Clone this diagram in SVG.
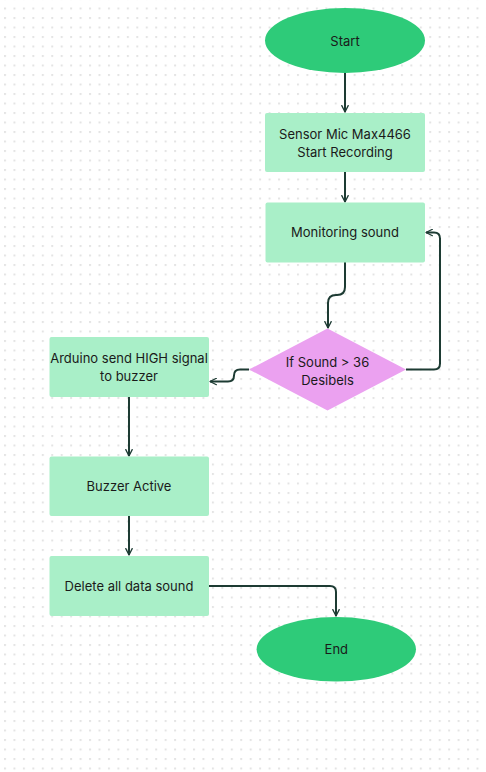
<svg xmlns="http://www.w3.org/2000/svg" width="486" height="772" viewBox="0 0 486 772">
<defs>
<pattern id="dots" x="4" y="17" width="9.45" height="9.5" patternUnits="userSpaceOnUse">
<rect x="0" y="0" width="2" height="2" fill="#e4e4e4"/>
</pattern>
<marker id="arr" viewBox="0 0 10 10" refX="9" refY="5" markerWidth="8" markerHeight="8" markerUnits="userSpaceOnUse" orient="auto">
<path d="M1,1 L9,5 L1,9" fill="none" stroke="#1d3b33" stroke-width="1.6" stroke-linecap="round" stroke-linejoin="round"/>
</marker>
<style>
.term{fill:#2ecb79}
.proc{fill:#a9efc8}
.dec{fill:#eba1f0}
.lbl{font-family:Inter,"Liberation Sans",sans-serif;font-size:13px;fill:#1a1a1a;text-anchor:middle}
.con{fill:none;stroke:#1d3b33;stroke-width:2;marker-end:url(#arr)}
</style>
</defs>
<rect width="486" height="772" fill="#ffffff"/>
<rect width="486" height="772" fill="url(#dots)"/>
<g id="connectors">
<path class="con" d="M345,73 V112"/>
<path class="con" d="M345,172 V202"/>
<path class="con" d="M345,262 V287 Q345,295 337,295 H336 Q328,295 328,303 V328"/>
<path class="con" d="M406,369.5 H434 Q440,369.5 440,363.5 V238.5 Q440,232.5 434,232.5 H426"/>
<path class="con" d="M249,369.5 H240 Q234,369.5 234,375.5 Q234,381.5 228,381.5 H210"/>
<path class="con" d="M129,397 V456"/>
<path class="con" d="M129,516 V555"/>
<path class="con" d="M209,586 H330 Q336,586 336,592 V616"/>
</g>
<g id="start">
<ellipse class="term" cx="345" cy="40.5" rx="80" ry="32.5"/>
<text class="lbl" x="345" y="45.5">Start</text>
</g>
<g id="sensor">
<rect class="proc" x="265" y="113" width="160" height="59" rx="2"/>
<text class="lbl" x="345" y="138.5">Sensor Mic Max4466</text>
<text class="lbl" x="345" y="156.5">Start Recording</text>
</g>
<g id="monitor">
<rect class="proc" x="265.5" y="202.5" width="159.5" height="60" rx="2"/>
<text class="lbl" x="345" y="237">Monitoring sound</text>
</g>
<g id="decision">
<polygon class="dec" points="327.5,328.5 406,369.5 327.5,410.5 249,369.5"/>
<text class="lbl" x="327.5" y="366.5">If Sound &gt; 36</text>
<text class="lbl" x="327.5" y="384.5">Desibels</text>
</g>
<g id="arduino">
<rect class="proc" x="49.5" y="337" width="159.5" height="60" rx="2"/>
<text class="lbl" x="129" y="363">Arduino send HIGH signal</text>
<text class="lbl" x="129" y="381">to buzzer</text>
</g>
<g id="buzzer">
<rect class="proc" x="49.5" y="456.5" width="159.5" height="59.5" rx="2"/>
<text class="lbl" x="129" y="491">Buzzer Active</text>
</g>
<g id="delete">
<rect class="proc" x="49.5" y="556" width="159.5" height="60" rx="2"/>
<text class="lbl" x="129" y="590.5">Delete all data sound</text>
</g>
<g id="end">
<ellipse class="term" cx="336.3" cy="649.3" rx="79.7" ry="32.3"/>
<text class="lbl" x="336.3" y="654">End</text>
</g>
</svg>
